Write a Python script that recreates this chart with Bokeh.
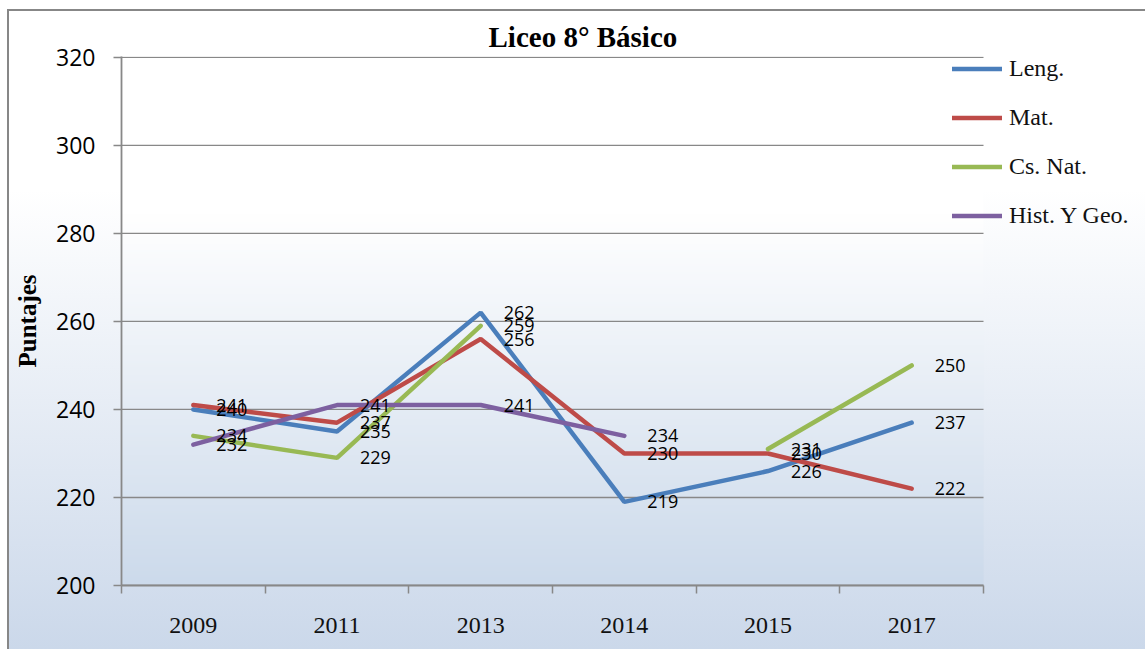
import numpy as np
from bokeh.plotting import figure
from bokeh.models import Range1d, FixedTicker, Legend, LegendItem
from bokeh.embed import file_html
from bokeh.resources import INLINE
from bokeh.core.properties import value

# ---- data ----
years = ["2009", "2011", "2013", "2014", "2015", "2017"]
leng = [240, 235, 262, 219, 226, 237]
mat = [241, 237, 256, 230, 230, 222]
cs_nat = [234, 229, 259, np.nan, 231, 250]
hist_geo = [232, 241, 241, 234, np.nan, np.nan]
series_names = ["Leng.", "Mat.", "Cs. Nat.", "Hist. Y Geo."]
series_values = [leng, mat, cs_nat, hist_geo]
colors = ["#4A7EBB", "#BE4B48", "#98B954", "#7D60A0"]
y_ticks = [200, 220, 240, 260, 280, 300, 320]
title_text = "Liceo 8° Básico"
y_title = "Puntajes"

n = len(years)
xs = np.arange(n) + 0.5
cat_px = 862 / n            # pixel width of one category
frame_w = 1024              # frame extends under the legend area
x_end = frame_w / cat_px

p = figure(frame_width=frame_w, frame_height=529,
           x_range=Range1d(0, x_end), y_range=Range1d(200, 320.2),
           output_backend="svg", toolbar_location=None, title=title_text,
           min_border_left=112, min_border_right=0,
           min_border_top=45, min_border_bottom=64)
p.background_fill_alpha = 0
p.border_fill_alpha = 0
p.outline_line_color = None
p.styles = {
    "background": "linear-gradient(to bottom, #ffffff 0%, #ffffff 28%, #cbd8ea 100%)",
    "border-left": "2px solid #878787",
    "border-top": "2px solid #878787",
    "margin-left": "7px",
    "margin-top": "9px",
}

# title
p.title.align = "left"
p.title.offset = 367
p.title.text_font = "Liberation Serif"
p.title.text_font_style = "bold"
p.title.text_font_size = "29px"
p.title.text_color = "black"
p.title.standoff = 8

# plot-area gradient
N = 264
ft = 1 - (np.arange(N) + 0.5) / N
t = np.clip((ft - 0.3) / 0.7, 0, 1)
top = np.array([255, 255, 255])
bot = np.array([204, 218, 235])
cols = (top[None, :] + t[:, None] * (bot - top)[None, :]).astype(np.uint8)
img = np.zeros((N, 1), dtype=np.uint32)
view = img.view(dtype=np.uint8).reshape((N, 1, 4))
view[:, 0, 0] = cols[:, 0]
view[:, 0, 1] = cols[:, 1]
view[:, 0, 2] = cols[:, 2]
view[:, 0, 3] = 255
p.image_rgba(image=[img], x=0, y=200, dw=n, dh=120.2, level="image")

grey = "#888888"
# horizontal gridlines limited to the category area
p.xgrid.visible = False
p.ygrid.visible = False
p.segment(x0=[0] * len(y_ticks), x1=[n] * len(y_ticks), y0=y_ticks, y1=y_ticks,
          line_color=grey, line_width=1.3, level="underlay")

# x axis
xa = p.xaxis[0]
xa.bounds = (0, n)
xa.ticker = FixedTicker(ticks=list(xs), minor_ticks=list(range(n + 1)))
xa.major_label_overrides = {float(x): y for x, y in zip(xs, years)}
xa.major_tick_out = 0
xa.major_tick_in = 0
xa.major_tick_line_color = None
xa.minor_tick_out = 8
xa.minor_tick_in = 0
xa.minor_tick_line_color = grey
xa.minor_tick_line_width = 1.5
xa.axis_line_color = grey
xa.axis_line_width = 1.8
xa.major_label_text_font = "Liberation Serif"
xa.major_label_text_font_size = "24px"
xa.major_label_text_color = "#111111"
xa.major_label_standoff = 24

# y axis
ya = p.yaxis[0]
ya.ticker = FixedTicker(ticks=y_ticks)
ya.major_tick_out = 8
ya.major_tick_in = 0
ya.minor_tick_out = 0
ya.minor_tick_in = 0
ya.major_tick_line_color = grey
ya.major_tick_line_width = 1.5
ya.axis_line_color = grey
ya.axis_line_width = 1.8
ya.major_label_text_font = "Open Sans"
ya.major_label_text_font_size = "23px"
ya.major_label_text_color = "black"
ya.major_label_standoff = 18
ya.axis_label = y_title
ya.axis_label_text_font = "Liberation Serif"
ya.axis_label_text_font_style = "bold"
ya.axis_label_text_font_size = "25px"
ya.axis_label_text_color = "black"
ya.axis_label_standoff = 12

# lines
renderers = []
for vals, c in zip(series_values, colors):
    r = p.line(xs, vals, line_width=4.5, line_color=c, line_cap="round")
    renderers.append(r)

# data labels
for vals in series_values:
    v = np.array(vals, dtype=float)
    m = ~np.isnan(v)
    p.text(x=xs[m], y=v[m], text=[str(int(a)) for a in v[m]],
           x_offset=23, text_align="left", text_baseline="middle",
           text_font=value("Open Sans"), text_font_size="18px",
           text_color="black")

legend = Legend(items=[LegendItem(label=nm, renderers=[r]) for nm, r in zip(series_names, renderers)],
                location=(831, 345.5), orientation="vertical",
                background_fill_alpha=0, border_line_color=None,
                padding=0, margin=0, spacing=0,
                glyph_width=50, glyph_height=49, label_standoff=7,
                label_text_font="Liberation Serif", label_text_font_size="24px",
                label_text_color="#111111")
p.add_layout(legend)

open("out.html", "w").write(file_html(p, INLINE))
